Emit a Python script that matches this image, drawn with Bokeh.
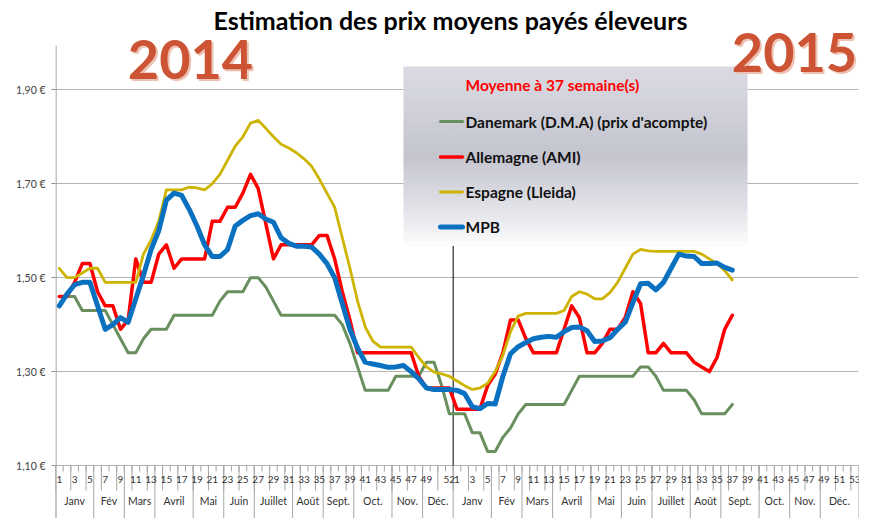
import numpy as np
from bokeh.plotting import figure
from bokeh.models import Range1d, FixedTicker, CustomJSTickFormatter
from bokeh.core.properties import value
from bokeh.embed import file_html
from bokeh.resources import INLINE

# ---------------- data ----------------
weeks_2014 = list(range(1, 53))
weeks_2015 = list(range(1, 54))
month_names = ["Janv", "Fév", "Mars", "Avril", "Mai", "Juin", "Juillet", "Août",
               "Sept.", "Oct.", "Nov.", "Déc."]
month_weeks_2014 = [5, 4, 4, 5, 4, 4, 5, 4, 4, 5, 4, 4]
month_weeks_2015 = [5, 4, 4, 5, 4, 4, 5, 4, 5, 4, 4, 5]
week_labels_2014 = [str(w) if (w % 2 == 1 and w <= 49) or w == 52 else "" for w in weeks_2014]
week_labels_2015 = [str(w) if w % 2 == 1 else "" for w in weeks_2015]
y_ticks = [1.10, 1.30, 1.50, 1.70, 1.90]

danemark_2014 = [1.46, 1.46, 1.46, 1.43, 1.43, 1.43, 1.43, 1.40, 1.37, 1.34,
                 1.34, 1.37, 1.39, 1.39, 1.39, 1.42, 1.42, 1.42, 1.42, 1.42,
                 1.42, 1.45, 1.47, 1.47, 1.47, 1.50, 1.50, 1.48, 1.45, 1.42,
                 1.42, 1.42, 1.42, 1.42, 1.42, 1.42, 1.42, 1.40, 1.36, 1.31,
                 1.26, 1.26, 1.26, 1.26, 1.29, 1.29, 1.29, 1.29, 1.32, 1.32,
                 1.27, 1.21]
danemark_2015 = [1.21, 1.21, 1.17, 1.17, 1.13, 1.13, 1.16, 1.18, 1.21, 1.23,
                 1.23, 1.23, 1.23, 1.23, 1.23, 1.26, 1.29, 1.29, 1.29, 1.29,
                 1.29, 1.29, 1.29, 1.29, 1.31, 1.31, 1.29, 1.26, 1.26, 1.26,
                 1.26, 1.24, 1.21, 1.21, 1.21, 1.21, 1.23]

allemagne_2014 = [1.46, 1.46, 1.49, 1.53, 1.53, 1.47, 1.44, 1.44, 1.39, 1.41,
                  1.54, 1.49, 1.49, 1.55, 1.57, 1.52, 1.54, 1.54, 1.54, 1.54,
                  1.62, 1.62, 1.65, 1.65, 1.68, 1.72, 1.69, 1.615, 1.54, 1.57,
                  1.57, 1.57, 1.57, 1.57, 1.59, 1.59, 1.54, 1.47, 1.41, 1.34,
                  1.34, 1.34, 1.34, 1.34, 1.34, 1.34, 1.34, 1.29, 1.265, 1.265,
                  1.265, 1.265]
allemagne_2015 = [1.22, 1.22, 1.22, 1.22, 1.27, 1.295, 1.34, 1.41, 1.41, 1.37,
                  1.34, 1.34, 1.34, 1.34, 1.39, 1.44, 1.415, 1.34, 1.34, 1.36,
                  1.39, 1.39, 1.415, 1.47, 1.445, 1.34, 1.34, 1.36, 1.34, 1.34,
                  1.34, 1.32, 1.31, 1.30, 1.33, 1.39, 1.42]

espagne_2014 = [1.52, 1.50, 1.50, 1.51, 1.52, 1.52, 1.49, 1.49, 1.49, 1.49,
                1.49, 1.55, 1.58, 1.62, 1.687, 1.687, 1.687, 1.693, 1.691, 1.687,
                1.70, 1.72, 1.75, 1.78, 1.80, 1.829, 1.835, 1.818, 1.80, 1.784,
                1.776, 1.766, 1.753, 1.737, 1.71, 1.68, 1.65, 1.585, 1.52, 1.45,
                1.395, 1.365, 1.352, 1.352, 1.352, 1.352, 1.352, 1.33, 1.31, 1.299,
                1.295, 1.29]
espagne_2015 = [1.28, 1.27, 1.262, 1.265, 1.275, 1.30, 1.335, 1.385, 1.418, 1.424,
                1.424, 1.424, 1.424, 1.424, 1.43, 1.46, 1.47, 1.465, 1.455, 1.455,
                1.468, 1.49, 1.52, 1.55, 1.56, 1.557, 1.556, 1.556, 1.556, 1.556,
                1.556, 1.556, 1.55, 1.54, 1.53, 1.515, 1.495]

mpb_2014 = [1.44, 1.465, 1.485, 1.49, 1.49, 1.44, 1.39, 1.40, 1.415, 1.405,
            1.455, 1.505, 1.56, 1.60, 1.665, 1.68, 1.675, 1.645, 1.61, 1.57,
            1.545, 1.545, 1.56, 1.61, 1.622, 1.632, 1.636, 1.625, 1.618, 1.585,
            1.573, 1.567, 1.567, 1.565, 1.55, 1.53, 1.50, 1.445, 1.39, 1.35,
            1.32, 1.316, 1.313, 1.309, 1.31, 1.313, 1.30, 1.285, 1.265, 1.262,
            1.262, 1.262]
mpb_2015 = [1.26, 1.253, 1.225, 1.221, 1.232, 1.231, 1.29, 1.338, 1.353, 1.362,
            1.37, 1.373, 1.375, 1.373, 1.385, 1.394, 1.395, 1.387, 1.364, 1.365,
            1.372, 1.39, 1.405, 1.447, 1.487, 1.488, 1.474, 1.49, 1.52, 1.55,
            1.546, 1.545, 1.53, 1.53, 1.531, 1.522, 1.516]

series = [
    ("Danemark (D.M.A) (prix d'acompte)", danemark_2014 + danemark_2015, "#688f5d", 3),
    ("Allemagne (AMI)", allemagne_2014 + allemagne_2015, "#ff0000", 3.5),
    ("Espagne (Lleida)", espagne_2014 + espagne_2015, "#cdb400", 2.8),
    ("MPB", mpb_2014 + mpb_2015, "#0a70c0", 5),
]
legend_title = "Moyenne à  37 semaine(s)"
chart_title = "Estimation des prix moyens payés éleveurs"
year_labels = ["2014", "2015"]

# ---------------- layout helpers (page pixels -> data) ----------------
ORIGIN = 0
W, H = 872, 518
FX0 = 55.0
FX1 = 858.0
BL = int(FX0 - ORIGIN)
BR = int(ORIGIN + W - FX1)
n_cat = len(weeks_2014) + len(weeks_2015)
PX = (FX1 - FX0) / n_cat
Y0_PX, Y_PER = 465.0, 469.6


def sx(px):
    return 0.5 + (px - FX0) / PX


def sy(py):
    return 1.10 + (Y0_PX - py) / Y_PER


p = figure(width=W, height=H, output_backend="svg", toolbar_location=None,
           x_range=Range1d(0.5, n_cat + 0.5), y_range=Range1d(sy(ORIGIN + H), sy(ORIGIN)),
           x_axis_location=None, min_border_left=BL, min_border_right=BR,
           min_border_top=0, min_border_bottom=0, title=None)
p.outline_line_color = None
p.background_fill_color = "white"
p.border_fill_color = "white"

ticker = FixedTicker(ticks=y_ticks, minor_ticks=[])
p.yaxis.ticker = ticker
p.ygrid.ticker = ticker
p.yaxis.formatter = CustomJSTickFormatter(code="return tick.toFixed(2).replace('.', ',') + ' €';")
p.yaxis.axis_line_color = None
p.yaxis.major_tick_out = 4
p.yaxis.major_tick_in = 0
p.yaxis.minor_tick_out = 0
p.yaxis.minor_tick_in = 0
p.yaxis.major_tick_line_color = "#8c8c8c"
p.yaxis.major_label_standoff = 6
p.yaxis.major_label_text_font = "Lato"
p.yaxis.major_label_text_font_size = "10.5px"
p.yaxis.major_label_text_color = "#404040"
p.ygrid.grid_line_color = "#b3b3b3"
p.ygrid.grid_line_width = 1
p.xgrid.visible = False

grey = "#a6a6a6"
# y axis line
p.segment(x0=[sx(55.5)], y0=[sy(530)], x1=[sx(55.5)], y1=[sy(45)], line_color="#8c8c8c", line_width=1)

# category axis decorations
bounds = np.arange(0.5, n_cat + 1.0)
p.segment(x0=bounds, y0=[sy(465)] * len(bounds), x1=bounds, y1=[sy(471)] * len(bounds),
          line_color=grey, line_width=1)
long_b = bounds[::2]
p.segment(x0=long_b, y0=[sy(465)] * len(long_b), x1=long_b, y1=[sy(490)] * len(long_b),
          line_color=grey, line_width=1)
month_b = np.concatenate([[0.5], 0.5 + np.cumsum(month_weeks_2014 + month_weeks_2015)])
p.segment(x0=month_b, y0=[sy(465)] * len(month_b), x1=month_b, y1=[sy(530)] * len(month_b),
          line_color=grey, line_width=1)

wk_labels = week_labels_2014 + week_labels_2015
wk_x = [i + 1 for i, t in enumerate(wk_labels) if t]
wk_t = [t for t in wk_labels if t]
p.text(x=wk_x, y=[sy(479)] * len(wk_x), text=wk_t, text_font=value("Lato"),
       text_font_size=value("10px"), text_color="#333333", text_align="center",
       text_baseline="middle")
m_centers = (month_b[:-1] + month_b[1:]) / 2
p.text(x=list(m_centers), y=[sy(500)] * len(m_centers), text=month_names + month_names,
       text_font=value("Lato"), text_font_size=value("10.5px"), text_color="#333333",
       text_align="center", text_baseline="middle")

# year separator line
xsep = len(weeks_2014) + 0.5
p.segment(x0=[xsep], y0=[sy(465)], x1=[xsep], y1=[sy(100)], line_color="#000000", line_width=1)

# legend box with vertical gradient
stops_t = [0.0, 0.5, 0.85, 1.0]
stops_c = [(218, 219, 226), (195, 196, 206), (232, 233, 237), (253, 253, 253)]
nstrip = 40
edges = np.linspace(66, 245, nstrip + 1)
cols = []
for k in range(nstrip):
    t = (k + 0.5) / nstrip
    rgb = [int(round(np.interp(t, stops_t, [c[j] for c in stops_c]))) for j in range(3)]
    cols.append("#%02x%02x%02x" % tuple(rgb))
p.quad(left=[sx(403)] * nstrip, right=[sx(747)] * nstrip,
       top=[sy(e) for e in edges[:-1]], bottom=[sy(e + 0.6) for e in edges[1:]],
       fill_color=cols, line_color=None)

# data series
xs = list(range(1, len(mpb_2014) + len(mpb_2015) + 1))
for name, vals, col, lw in series:
    p.line(x=xs, y=vals, line_color=col, line_width=lw, line_join="round", line_cap="round")

# legend content
p.text(x=[sx(465)], y=[sy(84)], text=[legend_title], text_font=value("Lato"),
       text_font_size=value("15.5px"), text_font_style="bold", text_color="#ff0000",
       text_baseline="middle")
leg_y = [121, 156.5, 191.5, 226.5]
for (name, vals, col, lw), ly in zip(series, leg_y):
    p.line(x=[sx(440), sx(462)], y=[sy(ly), sy(ly)], line_color=col, line_width=lw,
           line_cap="round")
    p.text(x=[sx(465)], y=[sy(ly)], text=[name], text_font=value("Lato"),
           text_font_size=value("15.5px"), text_font_style="bold", text_color="#111111",
           text_baseline="middle")

# titles
p.text(x=[sx(450)], y=[sy(19)], text=[chart_title], text_font=value("Lato"),
       text_font_size=value("25px"), text_font_style="bold", text_color="#000000",
       text_align="center", text_baseline="middle")
for lbl, cx, cy in zip(year_labels, [190, 794], [59, 52]):
    p.text(x=[sx(cx + 2)], y=[sy(cy + 2)], text=[lbl], text_font=value("Lato"),
           text_font_size=value("54px"), text_font_style="bold", text_color="#eec2b2",
           text_align="center", text_baseline="middle")
    p.text(x=[sx(cx)], y=[sy(cy)], text=[lbl], text_font=value("Lato"),
           text_font_size=value("54px"), text_font_style="bold", text_color="#cc5434",
           text_align="center", text_baseline="middle")

open("out.html", "w").write(file_html(p, INLINE))
